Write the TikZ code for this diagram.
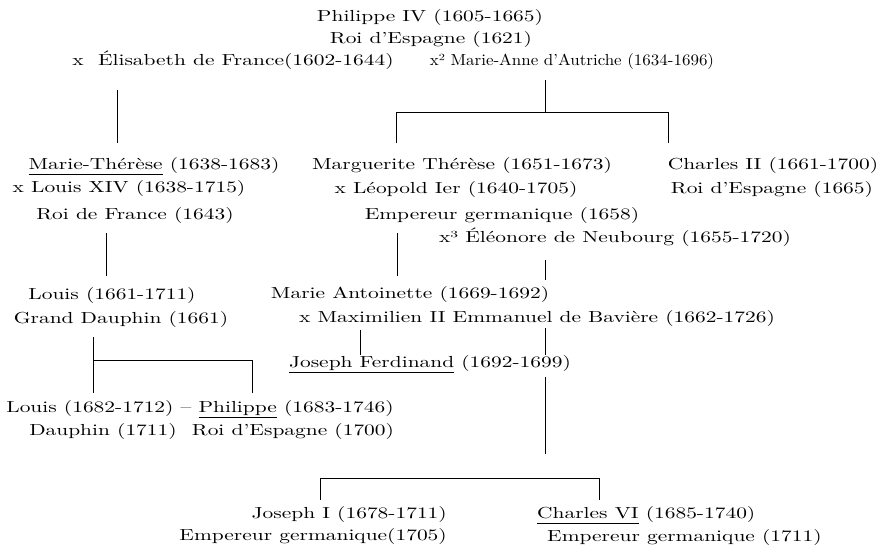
\documentclass[tikz,border=0pt]{standalone}
\usepackage{fontspec}
\setmainfont{lmroman10-regular.otf}[FakeStretch=1.34]
\newfontfamily\serre{lmroman10-regular.otf}[FakeStretch=1.06,Ligatures=TeX]
\usepackage{tikz}

\newcommand\souligne[1]{\setbox0\hbox{#1}\rlap{\rule[-5.5pt]{\wd0}{0.8pt}}\box0\relax}

\begin{document}
\begin{tikzpicture}[x=1pt,y=-1pt,
  nom/.style={anchor=base,inner sep=0pt,font=\fontsize{16}{19}\selectfont},
  lien/.style={line width=.8pt}]
  \useasboundingbox (0,0) rectangle (891,550);
  % Philippe IV et ses deux epouses
  \node[nom] (ph1) at (430,21) {Philippe IV (1605-1665)};
  \node[nom] (ph2) at (431,43) {Roi d'Espagne (1621)};
  \node[nom] (elis) at (233,65) {x\ \ Élisabeth de France(1602-1644)};
  \node[nom,font=\serre\fontsize{16}{19}\selectfont] (ma) at (572,65) {x² Marie-Anne d'Autriche (1634-1696)};
  % enfants
  \node[nom] (mt1) at (154,169) {\souligne{Marie-Thérèse} (1638-1683)};
  \node[nom] (mt2) at (129,192) {x Louis XIV (1638-1715)};
  \node[nom] (mt3) at (135,219) {Roi de France (1643)};
  \node[nom] (mg1) at (462,169) {Marguerite Thérèse (1651-1673)};
  \node[nom] (mg2) at (456,193) {x Léopold Ier (1640-1705)};
  \node[nom] (mg3) at (502,219) {Empereur germanique (1658)};
  \node[nom] (mg4) at (615,242) {x³ Éléonore de Neubourg (1655-1720)};
  \node[nom] (ch1) at (773,169) {Charles II (1661-1700)};
  \node[nom] (ch2) at (772,193) {Roi d'Espagne (1665)};
  % petits-enfants
  \node[nom] (lo1) at (112,299) {Louis (1661-1711)};
  \node[nom] (lo2) at (121,323) {Grand Dauphin (1661)};
  \node[nom] (an1) at (410,298) {Marie Antoinette (1669-1692)};
  \node[nom] (an2) at (537,322) {x Maximilien II Emmanuel de Bavière (1662-1726)};
  \node[nom] (jf) at (430,367) {\souligne{Joseph Ferdinand} (1692-1699)};
  \node[nom] (lp1) at (200,412) {Louis (1682-1712) -- \souligne{Philippe} (1683-1746)};
  \node[nom] (lp2) at (103,435) {Dauphin (1711)};
  \node[nom] (lp3) at (293,435) {Roi d'Espagne (1700)};
  \node[nom,anchor=base east] (jo1) at (447,518) {Joseph I (1678-1711)};
  \node[nom,anchor=base east] (jo2) at (447,540) {Empereur germanique(1705)};
  \node[nom,anchor=base west] (cv1) at (537,518) {\souligne{Charles VI} (1685-1740)};
  \node[nom,anchor=base west] (cv2) at (547,541) {Empereur germanique (1711)};
  % points des liens
  \coordinate (e1) at (117,90);
  \coordinate (e2) at (117,143);
  \coordinate (f1) at (545,80);
  \coordinate (f2) at (545,112);
  \coordinate (f3) at (396,112);
  \coordinate (f4) at (396,143);
  \coordinate (f5) at (668,112);
  \coordinate (f6) at (668,143);
  \coordinate (g1) at (106,233);
  \coordinate (g2) at (106,276);
  \coordinate (h1) at (397,233);
  \coordinate (h2) at (397,276);
  \coordinate (k1) at (545,260);
  \coordinate (k2) at (545,280);
  \coordinate (m1) at (360,330);
  \coordinate (m2) at (360,355);
  \coordinate (n1) at (545,328);
  \coordinate (n2) at (545,355);
  \coordinate (p1) at (93,337);
  \coordinate (p2) at (93,393);
  \coordinate (p3) at (93,360);
  \coordinate (p4) at (252,360);
  \coordinate (p5) at (252,393);
  \coordinate (q1) at (545,377);
  \coordinate (q2) at (545,454);
  \coordinate (r1) at (320,500);
  \coordinate (r2) at (320,478);
  \coordinate (r3) at (599,478);
  \coordinate (r4) at (599,500);
  % liens
  \draw[lien] (e1) -- (e2);
  \draw[lien] (f1) -- (f2);
  \draw[lien] (f4) -- (f3) -- (f5) -- (f6);
  \draw[lien] (g1) -- (g2);
  \draw[lien] (h1) -- (h2);
  \draw[lien] (k1) -- (k2);
  \draw[lien] (m1) -- (m2);
  \draw[lien] (n1) -- (n2);
  \draw[lien] (p1) -- (p2);
  \draw[lien] (p3) -- (p4) -- (p5);
  \draw[lien] (q1) -- (q2);
  \draw[lien] (r1) -- (r2) -- (r3) -- (r4);
\end{tikzpicture}
\end{document}
